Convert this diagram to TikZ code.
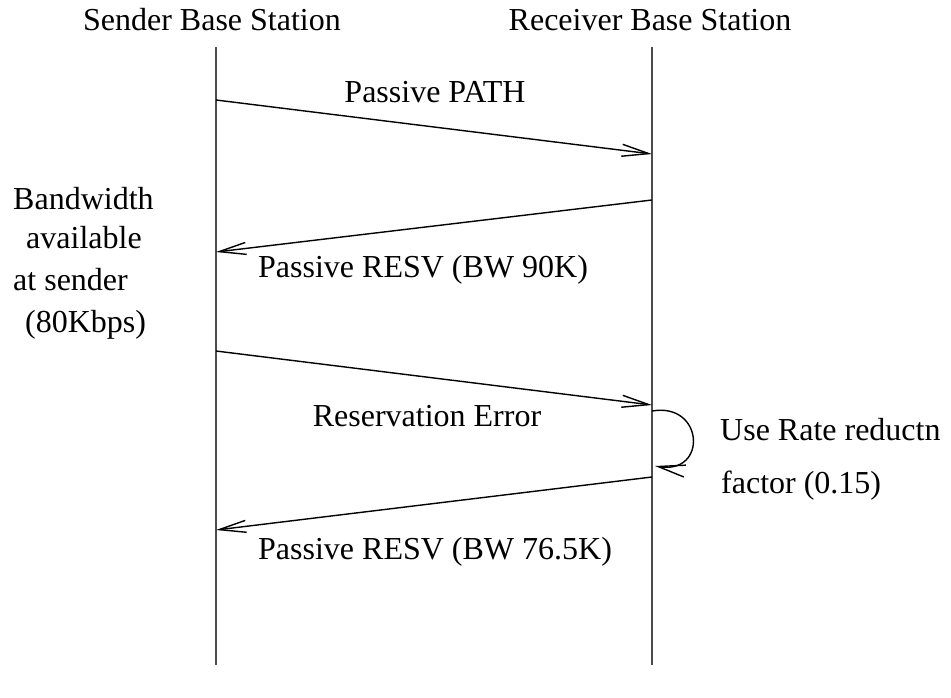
\documentclass[tikz,border=0pt]{standalone}
\usepackage{fontspec}
\setmainfont{Liberation Serif}
\usetikzlibrary{arrows.meta}
\begin{document}
\begin{tikzpicture}[x=1pt,y=-1pt,
  lbl/.style={font=\fontsize{32}{38}\selectfont, inner sep=0pt},
  lifeline/.style={draw=black!70, line width=1.8pt},
  msg/.style={draw=black, line width=1.4pt, -{Straight Barb[length=27pt,width=12pt,line width=1.4pt]}}]
  \useasboundingbox (0,0) rectangle (951,698);

  % station headings
  \node[lbl] (snd) at (212,20) {Sender Base Station};
  \node[lbl] (rcv) at (650,20) {Receiver Base Station};

  % lifelines
  \coordinate (s0) at (216,47);
  \coordinate (s1) at (216,665);
  \coordinate (r0) at (652,47);
  \coordinate (r1) at (652,665);
  \draw[lifeline] (s0) -- (s1);
  \draw[lifeline] (r0) -- (r1);

  % message end points
  \coordinate (m1a) at (216,100);  \coordinate (m1b) at (652,154);
  \coordinate (m2a) at (652,200);  \coordinate (m2b) at (216,252);
  \coordinate (m3a) at (216,351);  \coordinate (m3b) at (652,405);
  \coordinate (l1)  at (652,411);  \coordinate (l2)  at (655,466);
  \coordinate (m4a) at (652,477);  \coordinate (m4b) at (216,530);

  \draw[msg] (m1a) -- (m1b);
  \draw[msg] (m2a) -- (m2b);
  \draw[msg] (m3a) -- (m3b);
  \draw[msg] (l1) .. controls (704,402) and (708,475) .. (l2);
  \draw[msg] (m4a) -- (m4b);

  % message labels
  \node[lbl] (t1) at (435,92) {Passive PATH};
  \node[lbl, anchor=west] (t2) at (258,270) {Passive RESV (BW 90K)};
  \node[lbl] (t3) at (427,416) {Reservation Error};
  \node[lbl, anchor=west] (t4) at (258,552) {Passive RESV (BW 76.5K)};

  % side notes
  \node[lbl, anchor=base west] (n1) at (13,209) {Bandwidth};
  \node[lbl, anchor=base west] (n2) at (26,248) {available};
  \node[lbl, anchor=base west] (n3) at (13,290) {at sender};
  \node[lbl, anchor=base west] (n4) at (25,332) {(80Kbps)};
  \node[lbl, anchor=base west] (u1) at (720,440) {Use Rate reductn};
  \node[lbl, anchor=base west] (u2) at (721,493) {factor (0.15)};
\end{tikzpicture}
\end{document}
